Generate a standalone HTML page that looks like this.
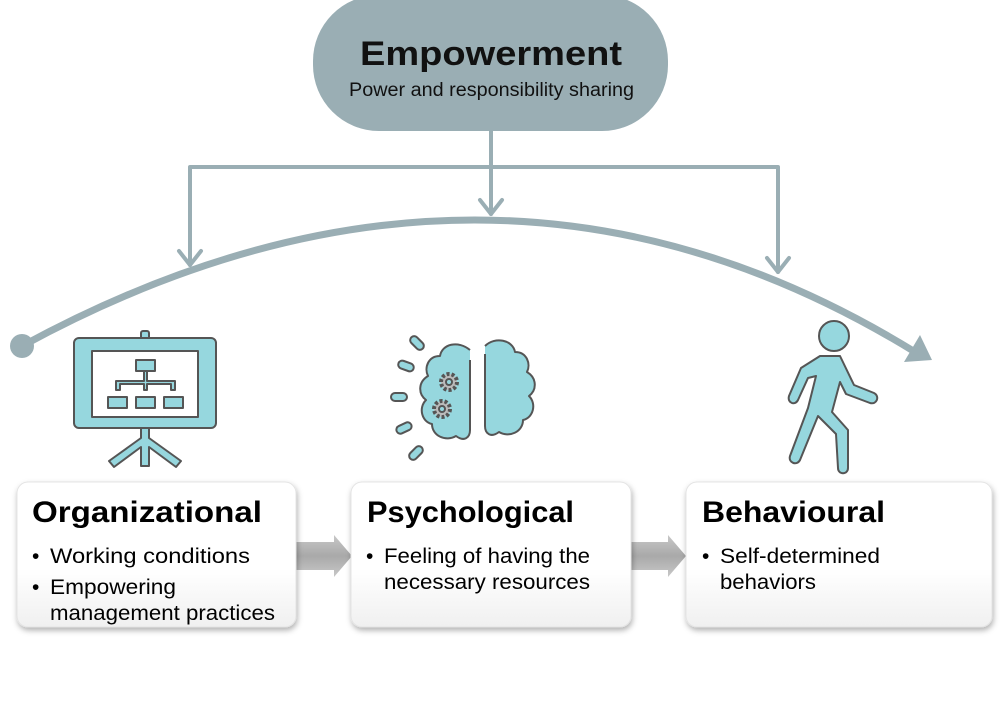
<!DOCTYPE html>
<html><head><meta charset="utf-8"><style>
body{margin:0;background:#fff;}
svg{display:block;font-family:"Liberation Sans",sans-serif;}
</style></head><body>
<svg width="1005" height="701" viewBox="0 0 1005 701" xmlns="http://www.w3.org/2000/svg">
<defs>
<linearGradient id="bg" x1="0" y1="0" x2="0" y2="1"><stop offset="0" stop-color="#fff"/><stop offset="0.6" stop-color="#fff"/><stop offset="1" stop-color="#f0f0f0"/></linearGradient>
<filter id="sh" x="-10%" y="-10%" width="130%" height="130%"><feDropShadow dx="1" dy="3" stdDeviation="3" flood-color="#000" flood-opacity="0.3"/></filter>
<linearGradient id="ag" x1="0" y1="0" x2="0" y2="1"><stop offset="0" stop-color="#c8c8c8"/><stop offset="0.5" stop-color="#a9a9a9"/><stop offset="1" stop-color="#c8c8c8"/></linearGradient>
</defs>
<rect x="313" y="-5" width="355" height="136" rx="66" fill="#9aaeb4"/>
<text x="360" y="65" textLength="262" lengthAdjust="spacingAndGlyphs" font-size="34" font-weight="bold" fill="#111">Empowerment</text>
<text x="349" y="96" textLength="285" lengthAdjust="spacingAndGlyphs" font-size="19" fill="#111">Power and responsibility sharing</text>
<g stroke="#9aaeb4" stroke-width="4" fill="none" stroke-linecap="round" stroke-linejoin="round">
<line x1="491" y1="131" x2="491" y2="214"/>
<polyline points="480,200 491,214 502,200"/>
<polyline points="190,265 190,167 778,167 778,272"/>
<polyline points="179,251 190,265 201,251"/>
<polyline points="767,258 778,272 789,258"/>
<path d="M22,346 Q491,91 915,352" stroke-width="7"/>
</g>
<circle cx="22" cy="346" r="12" fill="#9aaeb4"/>
<polygon points="932,360 904,362 920,335" fill="#9aaeb4"/>
<g stroke="#555" stroke-width="2" fill="#96d7de" stroke-linejoin="round">
<rect x="141" y="331" width="8" height="12" rx="2"/>
<rect x="74" y="338" width="142" height="90" rx="5"/>
<rect x="92" y="351" width="106" height="66" fill="#fff"/>
<rect x="136" y="360" width="19" height="11"/>
<path d="M144,371v10h-28v9h4v-6h24v6h3v-6h24v6h4v-9h-28v-10z"/>
<rect x="108" y="397" width="19" height="11"/><rect x="136" y="397" width="19" height="11"/><rect x="164" y="397" width="19" height="11"/>
<path d="M141,428h8v10l32,23-5,6-27-20v19h-8v-19l-27,20-5-6 32-23z"/>
</g>
<g stroke="#555" stroke-width="2" fill="#96d7de" stroke-linejoin="round">
<path d="M470,350c-12,-10-28,-6-30,6c-12,0-16,12-12,20c-10,6-10,18-2,24c-8,8-4,22,6,24c0,12,14,18,24,12c8,6,14,2,14,-6v-70c0,-6-0,-10z"/>
<path d="M485,346c10,-10,28,-6,30,6c12,0,16,12,12,20c10,6,10,18,2,24c8,8,4,22-6,24c0,12-14,18-24,12c-8,6-14,2-14,-6v-72c0,-4 0,-8z"/>
<rect x="413" y="335" width="8" height="16" rx="4" transform="rotate(-45 417 343)"/>
<rect x="398" y="362" width="16" height="8" rx="4" transform="rotate(20 406 366)"/>
<rect x="391" y="393" width="16" height="8" rx="4"/>
<rect x="396" y="424" width="16" height="8" rx="4" transform="rotate(-25 404 428)"/>
<rect x="412" y="445" width="8" height="16" rx="4" transform="rotate(45 416 453)"/>
<circle cx="449" cy="382" r="8" fill="#bbb" stroke-dasharray="3 2" stroke-width="4"/>
<circle cx="449" cy="382" r="3" fill="#96d7de"/>
<circle cx="442" cy="409" r="8" fill="#bbb" stroke-dasharray="3 2" stroke-width="4"/>
<circle cx="442" cy="409" r="3" fill="#96d7de"/>
</g>
<g stroke="#555" stroke-width="2" fill="#96d7de" stroke-linejoin="round">
<circle cx="834" cy="336" r="15"/>
<path d="M820,356l20,0 14,29 20,8c6,3 3,12-4,10l-24,-9-6,-12-8,30 16,18 0,38c0,7-10,7-10,0l-2,-34-18,-18-18,44c-3,6-12,3-10,-4l18,-48 8,-32-8,2-10,22c-3,6-11,3-9,-4l12,-28z"/>
</g>
<polygon points="296,542 334,542 334,535 352,556 334,577 334,570 296,570" fill="url(#ag)"/>
<polygon points="631,542 668,542 668,535 686,556 668,577 668,570 631,570" fill="url(#ag)"/>
<g filter="url(#sh)" fill="url(#bg)" stroke="#e4e4e4" stroke-width="1">
<rect x="17" y="482" width="279" height="145" rx="11"/>
<rect x="351" y="482" width="280" height="145" rx="11"/>
<rect x="686" y="482" width="306" height="145" rx="11"/>
</g>
<g fill="#000" lengthAdjust="spacingAndGlyphs">
<text x="32" y="522" font-size="30" font-weight="bold" textLength="230" lengthAdjust="spacingAndGlyphs">Organizational</text>
<text x="32" y="563" font-size="21">•</text><text x="50" y="563" font-size="21" textLength="200" lengthAdjust="spacingAndGlyphs">Working conditions</text>
<text x="32" y="594" font-size="21">•</text><text x="50" y="594" font-size="21" textLength="126" lengthAdjust="spacingAndGlyphs">Empowering</text>
<text x="50" y="620" font-size="21" textLength="225" lengthAdjust="spacingAndGlyphs">management practices</text>
<text x="367" y="522" font-size="30" font-weight="bold" textLength="207" lengthAdjust="spacingAndGlyphs">Psychological</text>
<text x="366" y="563" font-size="21">•</text><text x="384" y="563" font-size="21" textLength="206" lengthAdjust="spacingAndGlyphs">Feeling of having the</text>
<text x="384" y="589" font-size="21" textLength="206" lengthAdjust="spacingAndGlyphs">necessary resources</text>
<text x="702" y="522" font-size="30" font-weight="bold" textLength="183" lengthAdjust="spacingAndGlyphs">Behavioural</text>
<text x="702" y="563" font-size="21">•</text><text x="720" y="563" font-size="21" textLength="160" lengthAdjust="spacingAndGlyphs">Self-determined</text>
<text x="720" y="589" font-size="21" textLength="96" lengthAdjust="spacingAndGlyphs">behaviors</text>
</g>
</svg>
</body></html>
